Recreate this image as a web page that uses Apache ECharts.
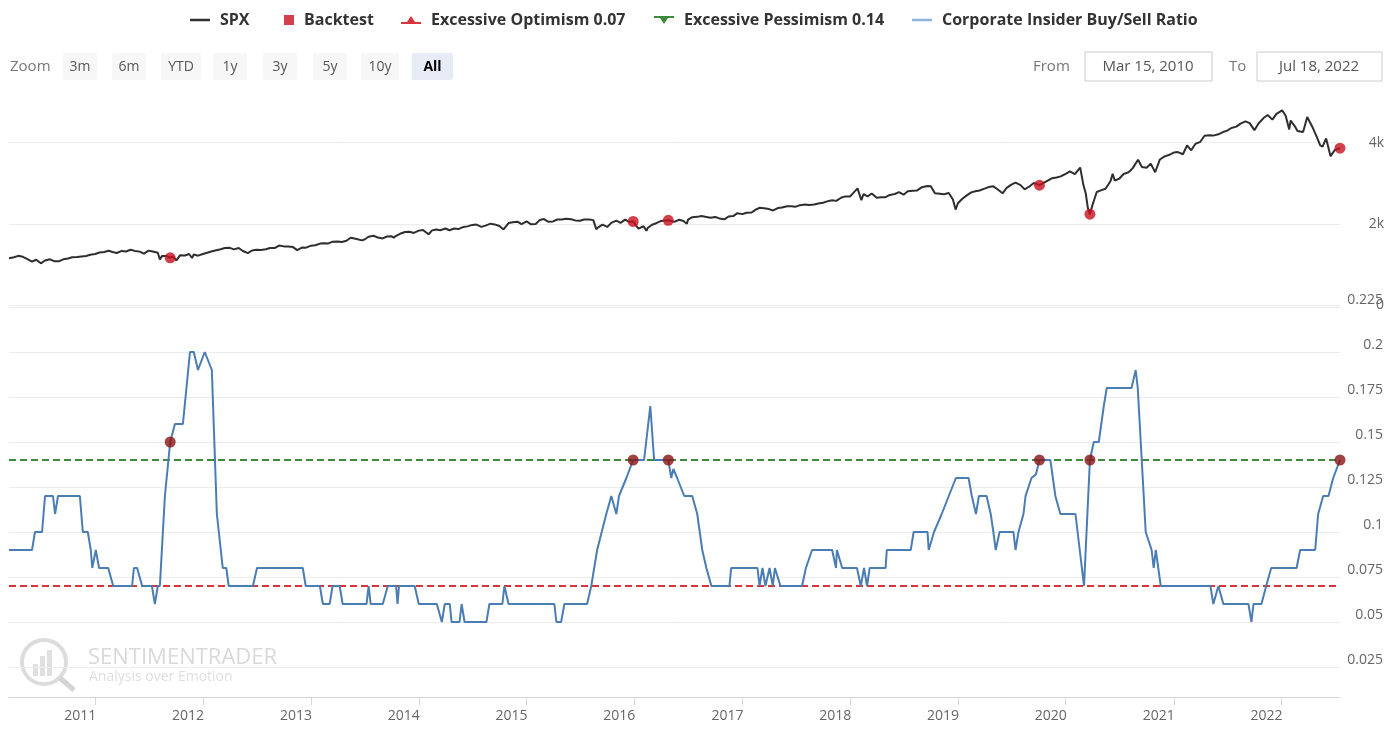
<!DOCTYPE html>
<html><head><meta charset="utf-8">
<script src="https://cdn.jsdelivr.net/npm/echarts@6/dist/echarts.min.js"></script>
<style>html,body{margin:0;padding:0;background:#fff}#c{width:1398px;height:731px}</style>
</head><body><div id="c"></div>
<script>
const xStart = '2010-03-15';
const xEnd = '2022-07-18';

const spx = [
['2010-03-15',1150],['2010-04-01',1178],['2010-04-15',1211],['2010-05-01',1187],['2010-05-15',1136],['2010-06-01',1070],['2010-06-15',1115],['2010-07-01',1027],['2010-07-15',1096],['2010-08-01',1125],['2010-08-15',1079],['2010-09-01',1080],['2010-09-15',1125],['2010-10-01',1146],['2010-10-15',1176],['2010-11-01',1184],['2010-11-15',1197],['2010-12-01',1206],['2010-12-15',1236],
['2011-01-01',1258],['2011-01-15',1293],['2011-02-01',1307],['2011-02-15',1336],['2011-03-01',1306],['2011-03-15',1281],['2011-04-01',1332],['2011-04-15',1319],['2011-05-01',1361],['2011-05-15',1333],['2011-06-01',1315],['2011-06-15',1265],['2011-07-01',1340],['2011-07-15',1316],['2011-08-01',1287],['2011-08-08',1119],['2011-08-15',1204],['2011-09-01',1204],['2011-09-12',1162],['2011-09-20',1202],['2011-10-03',1099],['2011-10-15',1224],['2011-11-01',1218],['2011-11-15',1257],['2011-11-25',1158],['2011-12-01',1244],['2011-12-15',1215],
['2012-01-01',1258],['2012-01-15',1289],['2012-02-01',1324],['2012-02-15',1350],['2012-03-01',1374],['2012-03-15',1402],['2012-04-01',1408],['2012-04-15',1370],['2012-05-01',1405],['2012-05-15',1330],['2012-06-01',1278],['2012-06-15',1342],['2012-07-01',1362],['2012-07-15',1356],['2012-08-01',1375],['2012-08-15',1405],['2012-09-01',1406],['2012-09-15',1465],['2012-10-01',1444],['2012-10-15',1440],['2012-11-01',1427],['2012-11-15',1353],['2012-12-01',1416],['2012-12-15',1413],
['2013-01-01',1462],['2013-01-15',1472],['2013-02-01',1513],['2013-02-15',1519],['2013-03-01',1518],['2013-03-15',1560],['2013-04-01',1562],['2013-04-15',1552],['2013-05-01',1582],['2013-05-15',1658],['2013-06-01',1631],['2013-06-22',1592],['2013-07-01',1614],['2013-07-15',1682],['2013-08-01',1706],['2013-08-15',1661],['2013-09-01',1640],['2013-09-15',1688],['2013-10-01',1695],['2013-10-08',1655],['2013-10-15',1698],['2013-11-01',1762],['2013-11-15',1798],['2013-12-01',1805],['2013-12-15',1775],
['2014-01-01',1832],['2014-01-15',1848],['2014-02-03',1742],['2014-02-15',1838],['2014-03-01',1859],['2014-03-15',1841],['2014-04-01',1885],['2014-04-15',1842],['2014-05-01',1884],['2014-05-15',1870],['2014-06-01',1924],['2014-06-15',1937],['2014-07-01',1973],['2014-07-15',1981],['2014-08-01',1925],['2014-08-15',1955],['2014-09-01',2003],['2014-09-15',1985],['2014-10-01',1946],['2014-10-15',1862],['2014-11-01',2018],['2014-11-15',2039],['2014-12-01',2053],['2014-12-15',1990],
['2015-01-01',2058],['2015-01-15',1992],['2015-02-01',1995],['2015-02-15',2096],['2015-03-01',2117],['2015-03-15',2053],['2015-04-01',2059],['2015-04-15',2106],['2015-05-01',2108],['2015-05-15',2122],['2015-06-01',2111],['2015-06-15',2084],['2015-07-01',2077],['2015-07-15',2108],['2015-08-01',2104],['2015-08-15',2091],['2015-08-25',1868],['2015-09-01',1914],['2015-09-15',1978],['2015-10-01',1923],['2015-10-15',2023],['2015-11-01',2079],['2015-11-15',2023],['2015-12-01',2102],['2015-12-15',2043],['2015-12-28',2057],
['2016-01-15',1880],['2016-02-01',1940],['2016-02-11',1829],['2016-02-15',1895],['2016-03-01',1978],['2016-03-15',2015],['2016-04-01',2072],['2016-04-15',2081],['2016-04-25',2087],['2016-05-15',2047],['2016-06-01',2099],['2016-06-15',2071],['2016-06-27',2000],['2016-07-01',2103],['2016-07-15',2162],['2016-08-01',2171],['2016-08-15',2190],['2016-09-01',2170],['2016-09-15',2147],['2016-10-01',2168],['2016-10-15',2133],['2016-11-01',2111],['2016-11-15',2180],['2016-12-01',2191],['2016-12-15',2262],
['2017-01-01',2239],['2017-01-15',2274],['2017-02-01',2279],['2017-02-15',2349],['2017-03-01',2396],['2017-03-15',2385],['2017-04-01',2363],['2017-04-15',2329],['2017-05-01',2388],['2017-05-15',2402],['2017-06-01',2431],['2017-06-15',2433],['2017-07-01',2423],['2017-07-15',2459],['2017-08-01',2476],['2017-08-15',2465],['2017-09-01',2476],['2017-09-15',2500],['2017-10-01',2519],['2017-10-15',2553],['2017-11-01',2579],['2017-11-15',2565],['2017-12-01',2642],['2017-12-15',2675],
['2018-01-01',2674],['2018-01-15',2786],['2018-01-26',2873],['2018-02-08',2581],['2018-02-15',2731],['2018-03-01',2677],['2018-03-15',2747],['2018-04-01',2641],['2018-04-15',2656],['2018-05-01',2655],['2018-05-15',2711],['2018-06-01',2735],['2018-06-15',2779],['2018-07-01',2718],['2018-07-15',2801],['2018-08-01',2813],['2018-08-15',2818],['2018-09-01',2902],['2018-09-20',2930],['2018-10-01',2924],['2018-10-15',2750],['2018-11-01',2740],['2018-11-15',2730],['2018-12-01',2760],['2018-12-15',2600],['2018-12-24',2351],
['2019-01-01',2507],['2019-01-15',2610],['2019-02-01',2706],['2019-02-15',2775],['2019-03-01',2803],['2019-03-15',2822],['2019-04-01',2867],['2019-04-15',2905],['2019-05-01',2923],['2019-05-15',2850],['2019-06-01',2752],['2019-06-15',2886],['2019-07-01',2964],['2019-07-15',3014],['2019-08-01',2953],['2019-08-15',2847],['2019-09-01',2926],['2019-09-15',3007],['2019-10-04',2952],['2019-10-15',2995],['2019-11-01',3066],['2019-11-15',3120],['2019-12-01',3141],['2019-12-15',3168],
['2020-01-01',3231],['2020-01-15',3289],['2020-02-01',3225],['2020-02-19',3386],['2020-03-01',2954],['2020-03-09',2746],['2020-03-16',2386],['2020-03-23',2237],['2020-04-01',2470],['2020-04-15',2783],['2020-05-01',2830],['2020-05-15',2863],['2020-06-01',3055],['2020-06-08',3232],['2020-06-15',3066],['2020-07-01',3115],['2020-07-15',3226],['2020-08-01',3271],['2020-08-15',3372],['2020-09-02',3580],['2020-09-15',3401],['2020-10-01',3380],['2020-10-15',3483],['2020-10-30',3270],['2020-11-15',3585],['2020-12-01',3662],['2020-12-15',3694],
['2021-01-01',3756],['2021-01-15',3768],['2021-02-01',3714],['2021-02-15',3934],['2021-03-01',3811],['2021-03-15',3968],['2021-04-01',4020],['2021-04-15',4170],['2021-05-01',4181],['2021-05-15',4173],['2021-06-01',4204],['2021-06-15',4255],['2021-07-01',4297],['2021-07-15',4360],['2021-08-01',4395],['2021-08-15',4468],['2021-09-01',4524],['2021-09-15',4480],['2021-10-01',4307],['2021-10-15',4471],['2021-11-01',4605],['2021-11-15',4682],['2021-12-01',4567],['2021-12-15',4709],
['2022-01-03',4796],['2022-01-15',4662],['2022-01-27',4326],['2022-02-01',4546],['2022-02-15',4401],['2022-02-24',4288],['2022-03-01',4306],['2022-03-15',4262],['2022-03-29',4631],['2022-04-15',4392],['2022-05-01',4131],['2022-05-12',3930],['2022-05-20',3901],['2022-06-01',4101],['2022-06-16',3666],['2022-07-01',3825],['2022-07-18',3863]
];

const backtestSpx = [['2011-09-12',1162],['2015-12-28',2057],['2016-04-25',2087],['2019-10-04',2952],['2020-03-23',2237],['2022-07-18',3863]];
const backtestRatio = [['2011-09-12',0.15],['2015-12-28',0.14],['2016-04-25',0.14],['2019-10-04',0.14],['2020-03-23',0.14],['2022-07-18',0.14]];

const optimismLevel = 0.07;
const pessimismLevel = 0.14;

const ratio = [
['2010-03-15',0.09],['2010-06-01',0.09],['2010-06-11',0.10],['2010-07-05',0.10],['2010-07-15',0.12],['2010-08-11',0.12],['2010-08-18',0.11],['2010-08-28',0.12],['2010-11-10',0.12],['2010-11-20',0.10],['2010-12-07',0.10],['2010-12-17',0.09],['2010-12-22',0.08],['2011-01-03',0.09],['2011-01-14',0.08],['2011-02-14',0.08],['2011-03-03',0.07],
['2011-05-06',0.07],['2011-05-12',0.08],['2011-05-23',0.08],['2011-06-09',0.07],['2011-07-12',0.07],['2011-07-22',0.06],['2011-08-01',0.07],['2011-08-08',0.07],['2011-08-25',0.12],['2011-09-12',0.15],['2011-09-28',0.16],['2011-10-25',0.16],['2011-11-18',0.20],['2011-12-01',0.20],['2011-12-15',0.19],['2012-01-07',0.20],['2012-01-31',0.19],['2012-02-17',0.11],['2012-03-08',0.08],['2012-03-20',0.08],['2012-03-28',0.07],
['2012-06-18',0.07],['2012-07-02',0.08],['2012-12-04',0.08],['2012-12-14',0.07],['2013-01-31',0.07],['2013-02-10',0.06],['2013-03-05',0.06],['2013-03-15',0.07],['2013-04-08',0.07],['2013-04-18',0.06],['2013-07-08',0.06],['2013-07-15',0.07],['2013-07-22',0.06],['2013-09-01',0.06],['2013-09-18',0.07],['2013-10-16',0.07],['2013-10-21',0.06],['2013-10-26',0.07],['2013-12-18',0.07],['2014-01-01',0.06],
['2014-03-03',0.06],['2014-03-20',0.05],['2014-03-30',0.06],['2014-04-16',0.06],['2014-04-22',0.05],['2014-05-19',0.05],['2014-05-26',0.06],['2014-06-05',0.05],['2014-08-18',0.05],['2014-08-28',0.06],['2014-10-11',0.06],['2014-10-18',0.07],['2014-11-01',0.06],['2015-04-05',0.06],['2015-04-12',0.05],['2015-04-28',0.05],['2015-05-09',0.06],['2015-07-25',0.06],
['2015-08-08',0.07],['2015-08-18',0.08],['2015-08-28',0.09],['2015-09-28',0.11],['2015-10-15',0.12],['2015-11-01',0.11],['2015-11-10',0.12],['2015-12-05',0.13],['2015-12-28',0.14],['2016-02-03',0.14],['2016-02-24',0.17],['2016-03-08',0.14],['2016-04-25',0.14],['2016-05-05',0.13],['2016-05-12',0.135],['2016-05-25',0.13],['2016-06-18',0.12],['2016-07-15',0.12],['2016-08-01',0.11],['2016-08-18',0.09],['2016-09-01',0.08],['2016-09-18',0.07],
['2016-11-18',0.07],['2016-11-24',0.08],['2017-02-21',0.08],['2017-02-28',0.07],['2017-03-10',0.08],['2017-03-20',0.07],['2017-04-03',0.08],['2017-04-14',0.07],['2017-04-21',0.08],['2017-05-10',0.07],['2017-07-22',0.07],['2017-08-04',0.08],['2017-08-25',0.09],['2017-11-01',0.09],['2017-11-14',0.08],['2017-11-17',0.09],['2017-12-05',0.08],['2018-01-24',0.08],['2018-02-06',0.07],['2018-02-17',0.08],['2018-02-27',0.07],['2018-03-08',0.08],
['2018-05-01',0.08],['2018-05-05',0.09],['2018-07-25',0.09],['2018-08-04',0.10],['2018-09-20',0.10],['2018-09-24',0.09],['2018-10-12',0.10],['2018-11-07',0.11],['2018-12-01',0.12],['2018-12-25',0.13],['2019-02-06',0.13],['2019-02-17',0.12],['2019-03-03',0.11],['2019-03-13',0.12],['2019-04-08',0.12],['2019-04-22',0.11],['2019-05-01',0.10],['2019-05-09',0.09],['2019-05-22',0.10],['2019-07-08',0.10],['2019-07-15',0.09],['2019-07-25',0.10],
['2019-08-11',0.11],['2019-08-18',0.12],['2019-09-07',0.13],['2019-09-22',0.132],['2019-10-04',0.14],['2019-11-10',0.14],['2019-11-27',0.12],['2019-12-14',0.11],['2020-02-03',0.11],['2020-03-03',0.07],['2020-03-23',0.14],['2020-04-05',0.15],['2020-04-22',0.15],['2020-05-09',0.17],['2020-05-19',0.18],['2020-08-11',0.18],['2020-08-25',0.19],['2020-09-01',0.18],['2020-09-28',0.10],['2020-10-18',0.09],['2020-10-25',0.08],['2020-11-01',0.09],['2020-11-18',0.07],
['2021-05-05',0.07],['2021-05-15',0.06],['2021-06-01',0.07],['2021-06-18',0.06],['2021-09-11',0.06],['2021-09-21',0.05],['2021-09-28',0.06],['2021-10-25',0.06],['2021-11-10',0.07],['2021-11-27',0.08],['2022-02-21',0.08],['2022-03-05',0.09],['2022-04-25',0.09],['2022-05-05',0.11],['2022-05-22',0.12],['2022-06-09',0.12],['2022-06-25',0.13],['2022-07-18',0.14]
];

const zoomButtons = ['3m','6m','YTD','1y','3y','5y','10y','All'];
const zoomButtonX = [63,112,161,213,263,313,361,412];
const zoomButtonW = [34,34,40,34,34,34,38,41];
const fromText = 'Mar 15, 2010';
const toText = 'Jul 18, 2022';

const FONT = '"Open Sans", "Noto Sans", sans-serif';
const chart = echarts.init(document.getElementById('c'));

const graphics = [];
graphics.push({type:'text', x:10, y:67, style:{text:'Zoom', fill:'#777', font:'15px '+FONT, align:'left', verticalAlign:'middle'}});
zoomButtons.forEach((b,i)=>{
  const isAll = b === 'All';
  graphics.push({type:'rect', shape:{x:zoomButtonX[i], y:53, width:zoomButtonW[i], height:27, r:2}, style:{fill: isAll ? '#e6ebf5' : '#f7f7f7'}});
  graphics.push({type:'text', x:zoomButtonX[i]+zoomButtonW[i]/2, y:67, style:{text:b, fill: isAll ? '#000' : '#555', font:(isAll?'bold ':'')+'14px '+FONT, align:'center', verticalAlign:'middle'}});
});
graphics.push({type:'text', x:1033, y:67, style:{text:'From', fill:'#777', font:'15px '+FONT, align:'left', verticalAlign:'middle'}});
graphics.push({type:'rect', shape:{x:1085, y:52, width:127, height:29}, style:{fill:'#fff', stroke:'#ccc', lineWidth:1}});
graphics.push({type:'text', x:1148, y:67, style:{text:fromText, fill:'#555', font:'15px '+FONT, align:'center', verticalAlign:'middle'}});
graphics.push({type:'text', x:1229, y:67, style:{text:'To', fill:'#777', font:'15px '+FONT, align:'left', verticalAlign:'middle'}});
graphics.push({type:'rect', shape:{x:1257, y:52, width:125, height:29}, style:{fill:'#fff', stroke:'#ccc', lineWidth:1}});
graphics.push({type:'text', x:1319, y:67, style:{text:toText, fill:'#555', font:'15px '+FONT, align:'center', verticalAlign:'middle'}});
// watermark
graphics.push({type:'circle', z:-1, shape:{cx:44, cy:662, r:22}, style:{fill:'none', stroke:'#dcdcdc', lineWidth:4}});
graphics.push({type:'line', z:-1, shape:{x1:60, y1:678, x2:74, y2:690}, style:{stroke:'#d4d4d4', lineWidth:5}});
graphics.push({type:'rect', z:-1, shape:{x:33, y:664, width:5, height:12}, style:{fill:'#e0e0e0'}});
graphics.push({type:'rect', z:-1, shape:{x:40, y:656, width:5, height:20}, style:{fill:'#e0e0e0'}});
graphics.push({type:'rect', z:-1, shape:{x:47, y:650, width:5, height:26}, style:{fill:'#e0e0e0'}});
graphics.push({type:'text', z:-1, x:88, y:658, style:{text:'SENTIMENTRADER', fill:'#d9d9d9', font:'22px '+FONT, align:'left', verticalAlign:'middle'}});
graphics.push({type:'text', z:-1, x:89, y:677, style:{text:'Analysis over Emotion', fill:'#dedede', font:'14px '+FONT, align:'left', verticalAlign:'middle'}});

function legendAt(left, name, icon, w, h) {
  return {
    left: left, top: 12, padding: 0, itemWidth: w, itemHeight: h, selectedMode: false,
    itemStyle: {borderWidth: 0},
    textStyle: {fontFamily: FONT, fontSize: 16, fontWeight: 'bold', color: '#333', padding: [0,0,0,5]},
    data: [{name: name, icon: icon}]
  };
}

const ratioFmt = v => String(parseFloat(Number(v).toFixed(3)));

const option = {
  animation: false,
  backgroundColor: '#fff',
  textStyle: {fontFamily: FONT},
  graphic: graphics,
  legend: [
    legendAt(190, 'SPX', 'path://M0,0H20V2.5H0Z', 20, 10),
    legendAt(284, 'Backtest', 'rect', 10, 10),
    legendAt(401, 'Excessive Optimism 0.07', 'path://M0,6H6L10,0L14,6H20V8H0Z', 20, 10),
    legendAt(654, 'Excessive Pessimism 0.14', 'path://M0,1H20V3H14L10,9L6,3H0Z', 20, 10),
    legendAt(912, 'Corporate Insider Buy/Sell Ratio', 'path://M0,0H20V2.5H0Z', 20, 10)
  ],
  grid: [
    {left: 9, width: 1331, top: 100, height: 205},
    {left: 9, width: 1331, top: 307, height: 405}
  ],
  xAxis: [
    {type: 'time', gridIndex: 0, min: xStart, max: xEnd, show: false},
    {type: 'time', gridIndex: 1, min: xStart, max: xEnd, offset: -15,
     minInterval: 365*86400000, maxInterval: 366*86400000,
     axisLine: {show: true, lineStyle: {color: '#d6d6d6', width: 1}},
     axisTick: {show: true, length: 8, lineStyle: {color: '#d6d6d6'}},
     splitLine: {show: false},
     axisLabel: {color: '#666', fontSize: 14, fontFamily: FONT, margin: 12, padding: [0, 30, 0, 0], formatter: '{yyyy}', hideOverlap: false}
    }
  ],
  yAxis: [
    {type: 'value', gridIndex: 0, position: 'right', min: 0, max: 5050, interval: 2000,
     axisLine: {show: false}, axisTick: {show: false},
     splitLine: {show: true, showMaxLine: false, lineStyle: {color: '#ececec'}},
     axisLabel: {showMaxLabel: false, align: 'right', margin: 44, color: '#666', fontSize: 14, fontFamily: FONT,
       padding: [5,0,0,0],
       formatter: v => v === 0 ? '0' : (v/1000) + 'k'}
    },
    {type: 'value', gridIndex: 1, position: 'right', min: 0, max: 0.225, interval: 0.025,
     axisLine: {show: false}, axisTick: {show: false},
     splitLine: {show: true, showMinLine: false, lineStyle: {color: '#ececec'}},
     axisLabel: {showMinLabel: false, showMaxLabel: true, align: 'right', verticalAlign: 'bottom', lineHeight: 13, margin: 43, color: '#666', fontSize: 14, fontFamily: FONT,
       formatter: ratioFmt}
    }
  ],
  series: [
    {name: 'SPX', type: 'line', xAxisIndex: 0, yAxisIndex: 0, data: spx, showSymbol: false, symbol: 'none',
     lineStyle: {color: '#2e2e2e', width: 2}, itemStyle: {color: '#333'}, z: 3},
    {name: 'Backtest', type: 'scatter', xAxisIndex: 0, yAxisIndex: 0, data: backtestSpx, symbol: 'circle', symbolSize: 11,
     itemStyle: {color: '#c8101e'}, z: 5},
    {name: 'Excessive Optimism 0.07', type: 'line', xAxisIndex: 1, yAxisIndex: 1,
     data: [[xStart, optimismLevel], [xEnd, optimismLevel]], symbol: 'none',
     lineStyle: {color: '#d9343c', width: 2, type: [7, 4]}, itemStyle: {color: '#d9343c'}, z: 2},
    {name: 'Excessive Pessimism 0.14', type: 'line', xAxisIndex: 1, yAxisIndex: 1,
     data: [[xStart, pessimismLevel], [xEnd, pessimismLevel]], symbol: 'none',
     lineStyle: {color: '#3d8a3d', width: 2, type: [7, 4]}, itemStyle: {color: '#3d8a3d'}, z: 2},
    {name: 'Corporate Insider Buy/Sell Ratio', type: 'line', xAxisIndex: 1, yAxisIndex: 1, data: ratio,
     showSymbol: false, symbol: 'none', lineStyle: {color: '#4a7db3', width: 2}, itemStyle: {color: '#8fb3d9'}, z: 3},
    {name: 'Backtest', type: 'scatter', xAxisIndex: 1, yAxisIndex: 1, data: backtestRatio, symbol: 'circle', symbolSize: 11,
     itemStyle: {color: '#8a1414'}, z: 5}
  ]
};
chart.setOption(option);
</script>
</body></html>
